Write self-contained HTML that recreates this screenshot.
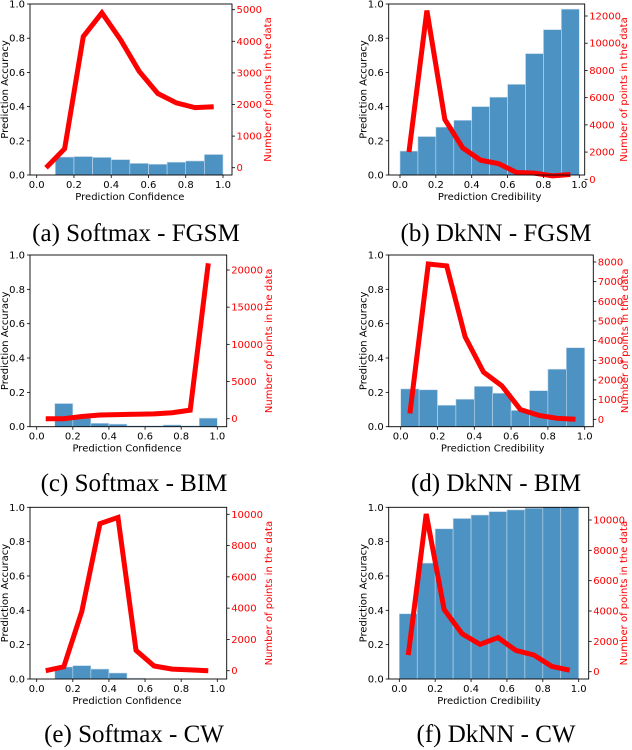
<!DOCTYPE html>
<html><head><meta charset="utf-8"><style>
body{margin:0;background:#fff;width:632px;height:750px;overflow:hidden}
svg{display:block}
.t{font-family:"DejaVu Sans",sans-serif;font-size:10px}
.cap{font-family:"Liberation Serif",serif;font-size:25px}
</style></head><body>
<svg id="fig" width="632" height="750" viewBox="0 0 632 750" xmlns="http://www.w3.org/2000/svg"></svg>
<script>
const binStarts=[0,0.1,0.2,0.3,0.4,0.5,0.6,0.7,0.8,0.9];
const lineX=[0.05,0.15,0.25,0.35,0.45,0.55,0.65,0.75,0.85,0.95];
const xTicks=[0,0.2,0.4,0.6,0.8,1.0];
const yTicks=[0,0.2,0.4,0.6,0.8,1.0];
const barsA=[0,0.105,0.108,0.103,0.09,0.068,0.063,0.075,0.082,0.12];
const lineA=[0,600,4150,4900,4050,3050,2350,2050,1900,1930];
const barsB=[0.14,0.225,0.28,0.32,0.40,0.455,0.53,0.71,0.85,0.97];
const lineB=[2000,12400,4400,2300,1400,1150,500,450,250,350];
const barsC=[0,0.135,0.05,0.02,0.015,0.005,0.005,0.01,0.005,0.05];
const lineC=[0,0,300,500,550,600,650,800,1150,20900];
const barsD=[0.22,0.215,0.125,0.16,0.235,0.195,0.095,0.21,0.335,0.46];
const lineD=[300,7900,7800,4200,2400,1700,500,200,50,0];
const barsE=[0,0.07,0.078,0.058,0.035,0.005,0,0,0,0];
const lineE=[0,250,3800,9400,9800,1300,300,100,50,0];
const barsF=[0.38,0.675,0.875,0.935,0.955,0.975,0.985,0.995,1.0,1.0];
const lineF=[1100,10400,4100,2500,1800,2250,1400,1100,350,100];
const rightTicksA=[0,1000,2000,3000,4000,5000];
const rightTicksB=[0,2000,4000,6000,8000,10000,12000];
const rightTicksC=[0,5000,10000,15000,20000];
const rightTicksD=[0,1000,2000,3000,4000,5000,6000,7000,8000];
const rightTicksE=[0,2000,4000,6000,8000,10000];
const rightTicksF=[0,2000,4000,6000,8000,10000];
const captions=["(a) Softmax - FGSM","(b) DkNN - FGSM","(c) Softmax - BIM","(d) DkNN - BIM","(e) Softmax - CW","(f) DkNN - CW"];

const panels=[
 {id:'a',bars:barsA,line:lineA,rt:rightTicksA,rmax:5000,L:30,R:232,T:4,B:175,x0:36.7,x1:223,r0:167.7,r1:9.7,xl:'Prediction Confidence',cx:136,cy:241,rtx:271,rfs:10,tfs:10,rts:9.5},
 {id:'b',bars:barsB,line:lineB,rt:rightTicksB,rmax:12000,L:388.7,R:584.7,T:4,B:175,x0:400,x1:579.3,r0:179.3,r1:16,xl:'Prediction Credibility',cx:496,cy:241,rtx:627,rfs:12,tfs:10.5,rts:9.5},
 {id:'c',bars:barsC,line:lineC,rt:rightTicksC,rmax:20000,L:30,R:226.7,T:255,B:426.7,x0:36.7,x1:217.3,r0:418.7,r1:270,xl:'Prediction Confidence',cx:134,cy:491,rtx:272,rfs:10.5,tfs:10,rts:9.5},
 {id:'d',bars:barsD,line:lineD,rt:rightTicksD,rmax:8000,L:388.7,R:593.3,T:255,B:426.7,x0:400.7,x1:584.7,r0:419.3,r1:262,xl:'Prediction Credibility',cx:496,cy:491,rtx:628,rfs:11,tfs:10,rts:8.5},
 {id:'e',bars:barsE,line:lineE,rt:rightTicksE,rmax:10000,L:30,R:226.7,T:507.3,B:679,x0:36.7,x1:217.3,r0:670.7,r1:514.3,xl:'Prediction Confidence',cx:134,cy:742,rtx:272,rfs:10.5,tfs:10,rts:9.5},
 {id:'f',bars:barsF,line:lineF,rt:rightTicksF,rmax:10000,L:388.7,R:588.7,T:507.3,B:679,x0:399.3,x1:578.7,r0:671.7,r1:520,xl:'Prediction Credibility',cx:496,cy:742,rtx:627,rfs:11.5,tfs:10.5,rts:9.5}
];
const NS='http://www.w3.org/2000/svg';
const fig=document.getElementById('fig');
function mk(tag,attrs,parent,text){const e=document.createElementNS(NS,tag);for(const k in attrs)e.setAttribute(k,attrs[k]);if(text!==undefined)e.textContent=text;(parent||fig).appendChild(e);return e;}
panels.forEach((p,pi)=>{
 const g=mk('g',{});
 
 
 const X=v=>p.x0+(p.x1-p.x0)*v;
 const Y=v=>p.B+(p.T-p.B)*v;
 const YR=v=>p.r0+(p.r1-p.r0)*v/p.rmax;
 p.bars.forEach((h,i)=>{
  if(h<=0)return;
  const r=mk('rect',{x:X(binStarts[i]),y:Y(h),width:X(binStarts[i]+0.1)-X(binStarts[i]),height:p.B-Y(h),fill:'#4c92c3',stroke:'#c9dcec','stroke-width':0.6},g);
  
  
 });
 const pl=mk('polyline',{points:p.line.map((v,i)=>X(lineX[i])+','+YR(v)).join(' '),fill:'none',stroke:'#ff0000','stroke-width':5,'stroke-linejoin':'miter'},g);
 
 
 const box=mk('rect',{x:p.L,y:p.T,width:p.R-p.L,height:p.B-p.T,fill:'none',stroke:'#000','stroke-width':0.9},g);
 
 
 xTicks.forEach(t=>{
  mk('line',{x1:X(t),x2:X(t),y1:p.B,y2:p.B+3,stroke:'#000','stroke-width':0.8},g);
  const tx=mk('text',{x:X(t),y:p.B+13,'text-anchor':'middle',class:'t','font-size':p.tfs},g,t.toFixed(1));
  
  
 });
 yTicks.forEach(t=>{
  mk('line',{x1:p.L-3,x2:p.L,y1:Y(t),y2:Y(t),stroke:'#000','stroke-width':0.8},g);
  const tx=mk('text',{x:p.L-5,y:Y(t)+3.5,'text-anchor':'end',class:'t','font-size':p.tfs},g,t.toFixed(1));
  
  
 });
 p.rt.forEach(t=>{
  mk('line',{x1:p.R,x2:p.R+3,y1:YR(t),y2:YR(t),stroke:'#000','stroke-width':0.8},g);
  const tx=mk('text',{x:p.R+4.5,y:YR(t)+3.5,class:'t',fill:'#ff0000','font-size':p.rts},g,String(t));
  
  
 });
 const xl=mk('text',{x:(p.x0+p.x1)/2,y:p.B+25,'text-anchor':'middle',class:'t','font-size':p.tfs+1},g,p.xl);
 
 
 const ym=(p.T+p.B)/2;
 const yl=mk('text',{x:p.L-22,y:ym,'text-anchor':'middle',class:'t','font-size':p.tfs,transform:'rotate(-90 '+(p.L-22)+' '+ym+')'},g,'Prediction Accuracy');
 
 
 const rx=p.rtx;
 const rl=mk('text',{x:rx,y:ym,'text-anchor':'middle',class:'t','font-size':p.rfs,fill:'#ff0000',transform:'rotate(-90 '+rx+' '+ym+')'},g,'Number of points in the data');
 
 
 const cp=mk('text',{x:p.cx,y:p.cy,'text-anchor':'middle',class:'cap'},g,captions[pi]);
 
 
});
</script>
</body></html>
